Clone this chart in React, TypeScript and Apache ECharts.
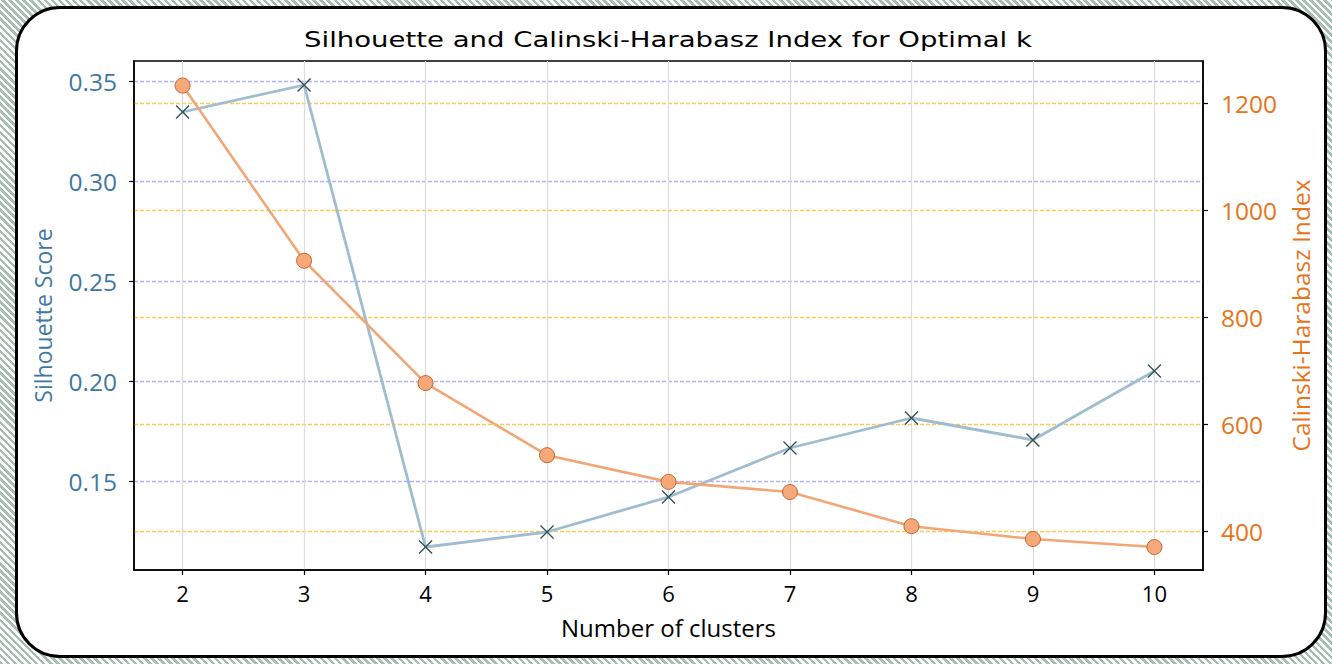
import React, { useEffect, useRef } from "react";
import * as echarts from "echarts";

const clusters = [2, 3, 4, 5, 6, 7, 8, 9, 10];
const silhouette = [0.3345, 0.348, 0.117, 0.1245, 0.142, 0.1665, 0.1815, 0.1705, 0.205];
const calinski = [1234, 906, 677, 542, 492, 473, 409, 385, 370];
const xTicks = [2, 3, 4, 5, 6, 7, 8, 9, 10];
const silTicks = [0.15, 0.2, 0.25, 0.3, 0.35];
const chTicks = [400, 600, 800, 1000, 1200];
const titleText = "Silhouette and Calinski-Harabasz Index for Optimal k";

const TICK_FONT = "'Open Sans', 'Noto Sans', sans-serif";
const TITLE_FONT = "'DejaVu Sans', sans-serif";
const BLUE_TEXT = "#3f79a2";
const ORANGE_TEXT = "#e8741a";

export default function App() {
  const ref = useRef<HTMLDivElement>(null);

  useEffect(() => {
    document.body.style.margin = "0";
    const chart = echarts.init(ref.current!, undefined, { renderer: "svg" });
    chart.setOption({
      animation: false,
      backgroundColor: "transparent",
      graphic: [
        {
          type: "text",
          x: 668,
          y: 40,
          scaleX: 1.31,
          scaleY: 1,
          silent: true,
          style: {
            text: titleText,
            fontFamily: TITLE_FONT,
            fontSize: 21,
            fill: "#000",
            align: "center",
            verticalAlign: "middle",
          },
        },
      ],
      grid: {
        left: 134,
        top: 61,
        right: 129,
        bottom: 94,
        show: true,
        borderColor: "#000",
        borderWidth: 1.5,
        backgroundColor: "transparent",
      },
      xAxis: {
        type: "value",
        min: 1.6,
        max: 10.4,
        name: "Number of clusters",
        nameLocation: "middle",
        nameGap: 45,
        nameTextStyle: { fontFamily: TICK_FONT, fontSize: 24, color: "#000" },
        axisLine: { show: true, lineStyle: { color: "#000", width: 1.5 } },
        axisTick: { show: true, customValues: xTicks, length: 5, lineStyle: { color: "#000", width: 1.2 } },
        axisLabel: { customValues: xTicks, color: "#000", fontSize: 22, fontFamily: TICK_FONT, margin: 12 },
        splitLine: { show: true, lineStyle: { color: "#dcdcdc", width: 1.2 } },
      },
      yAxis: [
        {
          type: "value",
          position: "left",
          min: 0.1055,
          max: 0.36,
          name: "Silhouette Score",
          nameLocation: "middle",
          nameRotate: 90,
          nameGap: 80,
          nameTextStyle: { fontFamily: TICK_FONT, fontSize: 23, color: BLUE_TEXT },
          axisLine: { show: true, lineStyle: { color: "#000", width: 1.5 } },
          axisTick: { show: true, customValues: silTicks, length: 5, lineStyle: { color: "#000", width: 1.2 } },
          axisLabel: {
            customValues: silTicks,
            color: BLUE_TEXT,
            fontSize: 24.5,
            fontFamily: TICK_FONT,
            margin: 17,
            formatter: (v: number) => v.toFixed(2),
          },
          splitLine: { show: true, lineStyle: { color: "#b2b2f6", width: 1.3, type: [4, 2] } },
        },
        {
          type: "value",
          position: "right",
          min: 327,
          max: 1280,
          name: "Calinski-Harabasz Index",
          nameLocation: "middle",
          nameRotate: 90,
          nameGap: 80,
          nameTextStyle: { fontFamily: TICK_FONT, fontSize: 24.5, color: ORANGE_TEXT },
          axisLine: { show: true, lineStyle: { color: "#000", width: 1.5 } },
          axisTick: { show: true, customValues: chTicks, length: 5, lineStyle: { color: "#000", width: 1.2 } },
          axisLabel: {
            customValues: chTicks,
            color: ORANGE_TEXT,
            fontSize: 24.5,
            fontFamily: TICK_FONT,
            margin: 18,
            formatter: (v: number) => String(Math.round(v)),
          },
          splitLine: { show: true, lineStyle: { color: "#ffc850", width: 1.3, type: [4, 2] } },
        },
      ],
      series: [
        {
          name: "Silhouette Score",
          type: "line",
          yAxisIndex: 0,
          data: clusters.map((k, i) => [k, silhouette[i]]),
          lineStyle: { color: "#a0bcd0", width: 2.8 },
          symbol: "path://M0,0L10,10M10,0L0,10",
          symbolSize: 13,
          itemStyle: { color: "#2f5050", borderColor: "#2f5050", borderWidth: 1.3 },
          z: 3,
        },
        {
          name: "Calinski-Harabasz Index",
          type: "line",
          yAxisIndex: 1,
          data: clusters.map((k, i) => [k, calinski[i]]),
          lineStyle: { color: "#f2a676", width: 2.6 },
          symbol: "circle",
          symbolSize: 15,
          itemStyle: { color: "#f5a97b", borderColor: "#c8642e", borderWidth: 1 },
          z: 4,
        },
      ],
    });
    return () => chart.dispose();
  }, []);

  return (
    <div
      style={{
        position: "fixed",
        left: 0,
        top: 0,
        width: 1332,
        height: 664,
        background:
          "repeating-linear-gradient(45deg, #a7bfb1 0px, #a7bfb1 2.5px, #ffffff 2.5px, #ffffff 5px)",
      }}
    >
      <div
        style={{
          position: "absolute",
          left: 15,
          top: 6,
          width: 1312,
          height: 652,
          boxSizing: "border-box",
          border: "3px solid #000",
          borderRadius: 45,
          background: "#fff",
        }}
      />
      <div ref={ref} style={{ position: "absolute", left: 0, top: 0, width: 1332, height: 664 }} />
    </div>
  );
}
